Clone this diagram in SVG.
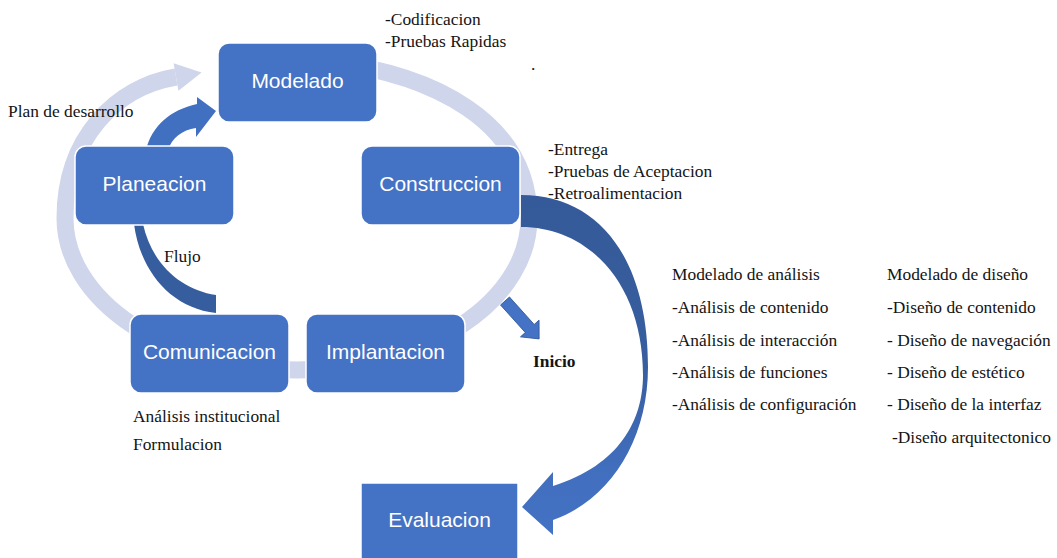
<svg xmlns="http://www.w3.org/2000/svg" width="1057" height="558" viewBox="0 0 1057 558">
<defs>
<linearGradient id="bigGrad" gradientUnits="userSpaceOnUse" x1="0" y1="195" x2="0" y2="535">
<stop offset="0" stop-color="#355A99"/>
<stop offset="0.5" stop-color="#375E9F"/>
<stop offset="0.8" stop-color="#416EBD"/>
<stop offset="1" stop-color="#4472C4"/>
</linearGradient>
</defs>
<style>
.box{fill:#4472C4;stroke:#ffffff;stroke-width:1.5}
.lbl{font-family:"Liberation Sans",Arial,sans-serif;font-size:21px;fill:#ffffff;text-anchor:middle}
.note{font-family:"Liberation Serif","Times New Roman",serif;font-size:17.4px;fill:#141414}
.ring{fill:none;stroke:#CFD5EA;stroke-width:17}
</style>
<rect width="1057" height="558" fill="#ffffff"/>
<g id="connectors">
<path class="ring" d="M 330 62 C 430 74, 529 120, 529 218 A 232 152 0 0 1 297 370 A 232 152 0 0 1 65 218 C 65 138, 116 87, 176 77"/>
<polygon points="173.6,63.2 201.6,72.6 178.4,90.8" fill="#CFD5EA"/>
<path id="plan-arrow" d="M 146 150 C 152 126, 170 110, 197 104 L 197 97 L 216 111 L 196 137 L 196 128 C 182 130, 172 138, 168 150 Z" fill="#4270C0"/>
<path id="flujo-arrow" d="M 134 224 C 140 270, 170 308, 216 313 L 216 295 C 182 290, 152 265, 143 224 Z" fill="#365E9E"/>
<path id="eval-arrow" d="M 521 195 C 600 195, 648 260, 648 367 C 648 440, 610 500, 553 520 L 553 535 L 522 507 L 553 472 L 553 486 C 620 465, 643 420, 643 375 C 643 285, 590 227, 521 227 Z" fill="url(#bigGrad)"/>
<path id="inicio-arrow" transform="translate(505,301) rotate(48)" d="M0 -6 L37 -6 L37 -12.5 L51 0 L37 12.5 L37 6 L0 6 Z" fill="#4472C4" stroke="#2F5597" stroke-width="0.8"/>
</g>
<g id="modelado"><rect class="box" x="218" y="43" width="159" height="79" rx="11"/><text class="lbl" x="297.5" y="88">Modelado</text></g>
<g id="planeacion"><rect class="box" x="75" y="146" width="159" height="79" rx="11"/><text class="lbl" x="154.5" y="191">Planeacion</text></g>
<g id="construccion"><rect class="box" x="361" y="146" width="159" height="79" rx="11"/><text class="lbl" x="440.5" y="191">Construccion</text></g>
<g id="comunicacion"><rect class="box" x="130" y="314" width="159" height="79" rx="11"/><text class="lbl" x="209.5" y="359">Comunicacion</text></g>
<g id="implantacion"><rect class="box" x="306" y="314" width="159" height="79" rx="11"/><text class="lbl" x="385.5" y="359">Implantacion</text></g>
<g id="evaluacion"><rect class="box" x="361" y="483" width="157" height="85"/><text class="lbl" x="439.5" y="527">Evaluacion</text></g>
<g id="notes">
<text class="note" x="385" y="25">-Codificacion</text>
<text class="note" x="385" y="47">-Pruebas Rapidas</text>
<text class="note" x="531" y="70">.</text>
<text class="note" x="8" y="117">Plan de desarrollo</text>
<text class="note" x="548" y="155">-Entrega</text>
<text class="note" x="548" y="177">-Pruebas de Aceptacion</text>
<text class="note" x="548" y="199">-Retroalimentacion</text>
<text class="note" x="164" y="262">Flujo</text>
<text class="note" x="533" y="367" font-weight="bold" font-size="18">Inicio</text>
<text class="note" x="133" y="422">Análisis institucional</text>
<text class="note" x="133" y="450">Formulacion</text>
<text class="note" x="672" y="280">Modelado de análisis</text>
<text class="note" x="672" y="313">-Análisis de contenido</text>
<text class="note" x="672" y="346">-Análisis de interacción</text>
<text class="note" x="672" y="378">-Análisis de funciones</text>
<text class="note" x="672" y="410">-Análisis de configuración</text>
<text class="note" x="887" y="280">Modelado de diseño</text>
<text class="note" x="887" y="313">-Diseño de contenido</text>
<text class="note" x="887" y="346">- Diseño de navegación</text>
<text class="note" x="887" y="378">- Diseño de estético</text>
<text class="note" x="887" y="410">- Diseño de la interfaz</text>
<text class="note" x="892" y="443">-Diseño arquitectonico</text>
</g>
</svg>
